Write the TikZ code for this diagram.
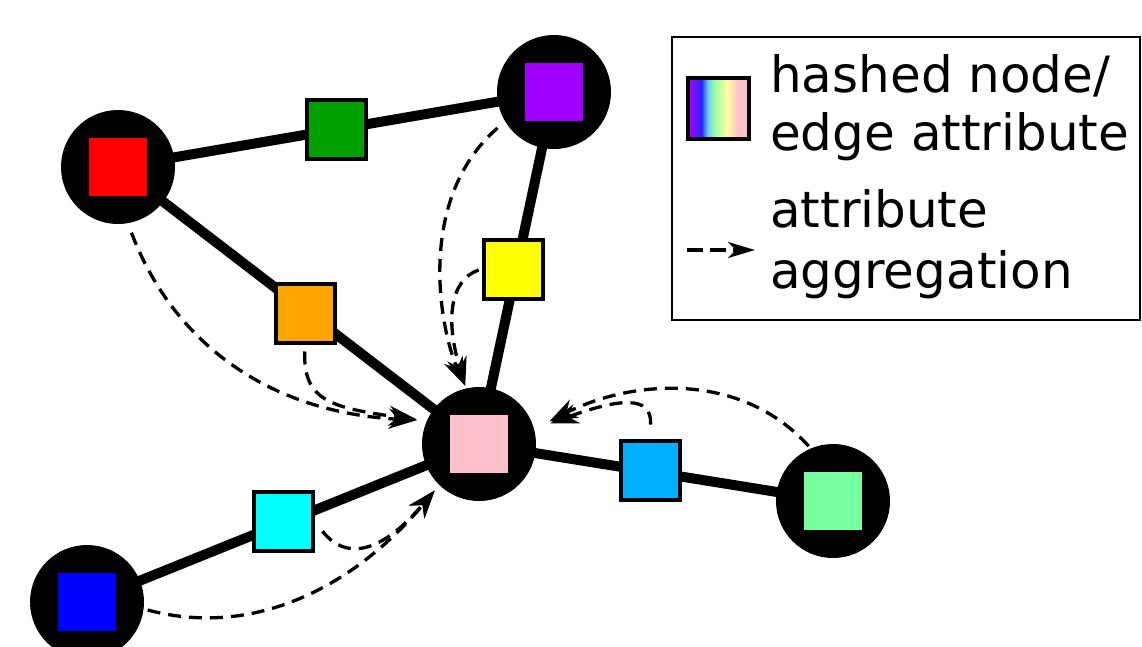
\documentclass[tikz,border=0pt]{standalone}
\usepackage{fontspec}
\setmainfont{DejaVu Sans}
\usetikzlibrary{arrows.meta,backgrounds}
\definecolor{cRed}{RGB}{255,0,0}
\definecolor{cGreen}{RGB}{0,160,0}
\definecolor{cPurple}{RGB}{160,0,255}
\definecolor{cOrange}{RGB}{255,165,0}
\definecolor{cYellow}{RGB}{255,255,0}
\definecolor{cPink}{RGB}{255,192,203}
\definecolor{cCyan}{RGB}{0,255,255}
\definecolor{cSky}{RGB}{0,176,255}
\definecolor{cMint}{RGB}{119,255,160}
\definecolor{cBlue}{RGB}{0,0,255}
\definecolor{cPurpleL}{RGB}{160,0,255}
\definecolor{cBlueL}{RGB}{40,40,255}
\definecolor{cCyanL}{RGB}{100,200,255}
\definecolor{cGreenL}{RGB}{160,255,160}
\definecolor{cYellowL}{RGB}{255,255,160}
\definecolor{cPinkL}{RGB}{255,192,203}
\pgfdeclarehorizontalshading{legshade}{100bp}{color(0bp)=(cPurpleL); color(27bp)=(cPurpleL); color(36bp)=(cBlueL); color(41bp)=(cCyanL); color(47bp)=(cGreenL); color(57bp)=(cYellowL); color(66bp)=(cPinkL); color(100bp)=(cPinkL)}
\begin{document}
\begin{tikzpicture}[x=1pt,y=-1pt,
  graphnode/.style={circle, fill=black, minimum size=114pt, inner sep=0pt},
  innersq/.style={rectangle, minimum size=58pt, inner sep=0pt},
  edgesq/.style={rectangle, draw=black, line width=4pt, minimum size=59pt, inner sep=0pt},
  graphedge/.style={line width=10pt},
  aggr/.style={line width=3.3pt, dash pattern=on 13pt off 8pt, -{Stealth[length=28pt,width=20pt,inset=9pt]}},
  legtext/.style={anchor=base west, inner sep=0pt, font=\fontsize{50pt}{58pt}\selectfont}]
\useasboundingbox (0,0) rectangle (1142,646);

% graph nodes
\node[graphnode] (nR) at (118,167) {};
\node[innersq, fill=cRed] (nRs) at (nR) {};
\node[graphnode] (nP) at (554,92) {};
\node[innersq, fill=cPurple] (nPs) at (nP) {};
\node[graphnode] (nK) at (479,444) {};
\node[innersq, fill=cPink] (nKs) at (nK) {};
\node[graphnode] (nB) at (87,602) {};
\node[innersq, fill=cBlue] (nBs) at (nB) {};
\node[graphnode] (nG) at (833,501) {};
\node[innersq, fill=cMint] (nGs) at (nG) {};

% edge attribute squares
\node[edgesq, fill=cGreen] (eG) at (336,129) {};
\node[edgesq, fill=cOrange] (eO) at (305,313) {};
\node[edgesq, fill=cYellow] (eY) at (513,269) {};
\node[edgesq, fill=cCyan] (eC) at (283,521) {};
\node[edgesq, fill=cSky] (eL) at (650,470) {};

% edges
\begin{scope}[on background layer]
\fill[white] (0,0) rectangle (1142,646);
\draw[graphedge] (nR.center) -- (nP.center);
\draw[graphedge] (nR.center) -- (nK.center);
\draw[graphedge] (nP.center) -- (nK.center);
\draw[graphedge] (nB.center) -- (nK.center);
\draw[graphedge] (nK.center) -- (nG.center);
\end{scope}

% aggregation arrows
\draw[aggr, shorten <=10pt, shorten >=10pt] (nR.280) .. controls (170,335) and (260,412) .. (nK.156.5);
\draw[aggr, shorten <=7pt, shorten >=10pt] (eO.south) .. controls (303,400) and (330,408) .. (nK.156.5);
\draw[aggr, shorten <=10pt, shorten >=3pt] (nP.211.5) .. controls (415,200) and (440,330) .. (nK.103.6);
\draw[aggr, shorten <=3pt, shorten >=3pt] (eY.west) .. controls (450,280) and (445,320) .. (nK.103.6);
\draw[aggr, shorten <=4pt, shorten >=7pt] (nB.353.5) .. controls (260,640) and (360,580) .. (nK.226);
\draw[aggr, shorten <=13pt, shorten >=7pt] (eC.east) .. controls (345,560) and (380,555) .. (nK.226);
\draw[aggr, shorten <=3pt, shorten >=17pt] (nG.113.6) .. controls (740,370) and (630,380) .. (nK.15.7);
\draw[aggr, shorten <=14pt, shorten >=17pt] (eL.north) .. controls (652,395) and (620,398) .. (nK.15.7);

% legend
\node[draw=black, line width=2.5pt, rectangle, minimum width=468pt, minimum height=283pt, inner sep=0pt] (leg) at (906,178.5) {};
\node[rectangle, minimum size=61pt, inner sep=0pt, shading=legshade, draw=black, line width=4pt] (legsq) at (718.5,108) {};
\coordinate (legA) at (687,250);
\coordinate (legB) at (755,250);
\draw[line width=3.3pt, dash pattern=on 16pt off 7pt, -{Stealth[length=27pt,width=16pt,inset=8pt]}] (legA) -- (legB);
\node[legtext] (t1) at (770,92) {hashed node/};
\node[legtext] (t2) at (770,150) {edge attribute};
\node[legtext] (t3) at (770,227) {attribute};
\node[legtext] (t4) at (770,288) {aggregation};
\end{tikzpicture}
\end{document}
